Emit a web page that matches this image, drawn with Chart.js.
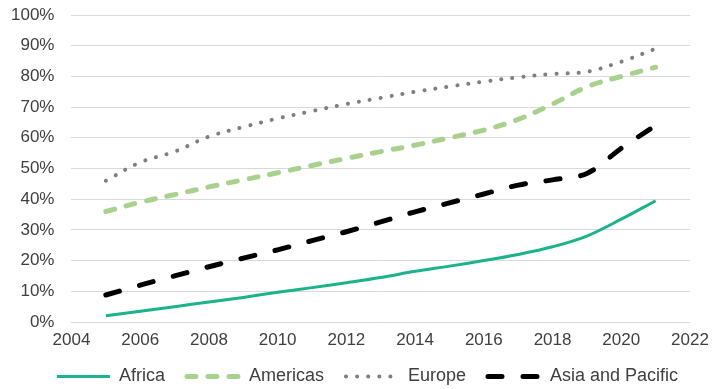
<!DOCTYPE html>
<html>
<head>
<meta charset="utf-8">
<script src="https://cdn.jsdelivr.net/npm/chart.js@4/dist/chart.umd.min.js"></script>
<style>
  html, body { margin: 0; padding: 0; background: #fff; }
  #wrap { width: 712px; height: 389px; }
</style>
</head>
<body>
<div id="wrap"><canvas id="myChart" width="712" height="389"></canvas></div>
<script>
const years = [2005, 2006, 2007, 2008, 2009, 2010, 2011, 2012, 2013, 2014, 2015, 2016, 2017, 2018, 2019, 2020, 2021];
const africa = [2, 3.5, 5, 6.5, 8, 9.7, 11.2, 12.8, 14.5, 16.5, 18.2, 20, 22, 24.5, 28, 33.5, 39.5];
const americas = [36, 39, 41.5, 44, 46.3, 48.6, 51, 53.3, 55.5, 57.6, 60, 62.5, 66, 71, 76.6, 80, 83];
const europe = [46, 52, 55.5, 60.4, 63.5, 66.3, 68.7, 71, 73, 75, 76.7, 78.3, 79.7, 80.8, 81.5, 84.8, 89];
const asiaPacific = [8.8, 12, 15, 18, 20.8, 23.5, 26.5, 29.4, 32.6, 35.9, 38.8, 41.7, 44.6, 46.3, 48.4, 56.6, 64];
const xTicks = [2004, 2022, 2];

function pts(values) {
  return years.map((y, i) => ({ x: y, y: values[i] }));
}

// nudge the legend a little to the right and up, like the original
const legendShift = {
  id: "legendShift",
  afterLayout(chart) {
    chart.legend.left += 17;
    chart.legend.right += 17;
    chart.legend.top -= 4;
    chart.legend.bottom -= 4;
  },
};

function main() {
  const ctx = document.getElementById("myChart").getContext("2d");
  const family = "'Liberation Sans', Arial, sans-serif";

  const chartOptions = {
    type: "line",
    data: {
      datasets: [
        {
          label: "Africa",
          data: pts(africa),
          borderColor: "#1ab38c",
          backgroundColor: "#1ab38c",
          borderWidth: 3,
        },
        {
          label: "Americas",
          data: pts(americas),
          borderColor: "#a9d18e",
          backgroundColor: "#a9d18e",
          borderWidth: 5,
          borderDash: [9, 12],
          borderCapStyle: "round",
        },
        {
          label: "Europe",
          data: pts(europe),
          borderColor: "#7f7f7f",
          backgroundColor: "#7f7f7f",
          borderWidth: 4,
          borderDash: [0.1, 11],
          borderCapStyle: "round",
        },
        {
          label: "Asia and Pacific",
          data: pts(asiaPacific),
          borderColor: "#000000",
          backgroundColor: "#000000",
          borderWidth: 5,
          borderDash: [14, 21],
          borderCapStyle: "round",
        },
      ],
    },
    options: {
      responsive: false,
      animation: false,
      layout: { padding: { left: 11, right: 22, top: 15, bottom: 0 } },
      elements: {
        point: { radius: 0, hoverRadius: 0 },
        line: { tension: 0.35, fill: false },
      },
      scales: {
        x: {
          type: "linear",
          min: xTicks[0],
          max: xTicks[1],
          grid: { display: false, drawTicks: false },
          border: { display: false },
          ticks: {
            stepSize: xTicks[2],
            color: "#404040",
            font: { family: family, size: 17, lineHeight: 1 },
            padding: 9.5,
            maxRotation: 0,
            callback: (v) => String(v),
          },
          afterFit: (s) => {
            s.height = s.options.ticks.padding + 18;
            s.paddingLeft = 0;
            s.paddingRight = 0;
          },
        },
        y: {
          min: 0,
          max: 100,
          grid: { color: "#d9d9d9", lineWidth: 1, drawTicks: false },
          border: { display: false },
          ticks: {
            stepSize: 10,
            color: "#404040",
            font: { family: family, size: 17 },
            padding: 17,
            callback: (v) => v + "%",
          },
          afterFit: (s) => {
            s.width -= s.options.ticks.padding;
            s.paddingTop = 0;
          },
        },
      },
      plugins: {
        tooltip: { enabled: false },
        legend: {
          position: "bottom",
          maxHeight: 39.5,
          labels: {
            usePointStyle: true,
            pointStyleWidth: 53,
            color: "#404040",
            font: { family: family, size: 18 },
            padding: 22,
            generateLabels: (chart) =>
              chart.data.datasets.map((ds, i) => ({
                text: ds.label,
                datasetIndex: i,
                hidden: false,
                pointStyle: "line",
                fillStyle: ds.borderColor,
                strokeStyle: ds.borderColor,
                fontColor: "#404040",
                lineWidth: ds.borderWidth,
                lineDash: ds.borderDash || [],
                lineCap: ds.borderCapStyle || "butt",
              })),
          },
        },
      },
    },
    plugins: [legendShift],
  };

  new Chart(ctx, chartOptions);
}
main();
</script>
</body>
</html>
